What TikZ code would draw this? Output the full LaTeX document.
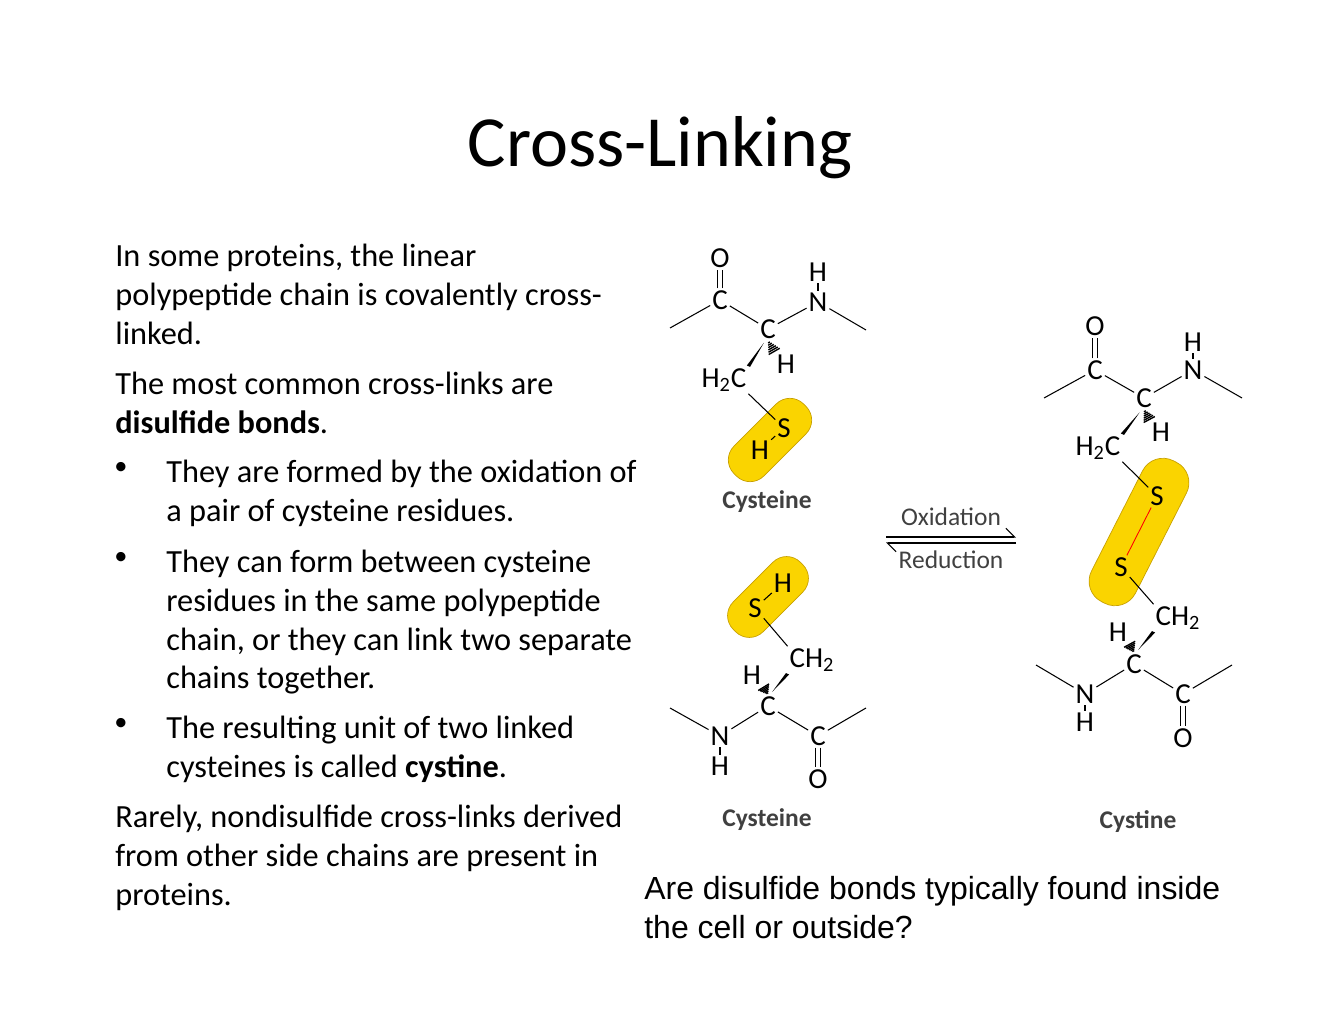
\documentclass[tikz,border=0pt]{standalone}
\usepackage{fontspec}
\setmainfont{Carlito}
\newfontfamily\arialfont{Liberation Sans}
\usetikzlibrary{calc,arrows.meta,positioning}
\definecolor{pill}{RGB}{250,212,0}
\definecolor{pilledge}{RGB}{200,160,0}
\newcommand{\hashbond}[2]{%
  \foreach \t in {0.15,0.3,...,0.95}{%
    \draw[line width=0.8pt] ($(#1)!\t!(#2)+($(#1)!\t*4pt!90:(#2)-(#1)$)$) -- ($(#1)!\t!(#2)-($(#1)!\t*4pt!90:(#2)-(#1)$)$);}}
\newcommand{\wedgebond}[2]{%
  \fill ($(#1)!3.5pt!90:(#2)$) -- ($(#2)!1pt!-90:(#1)$) -- ($(#2)!1pt!90:(#1)$) -- cycle;}
\begin{document}
\begin{tikzpicture}[x=0.02cm, y=-0.02cm,
    atom/.style={inner sep=1pt, font=\fontsize{16.5}{16.5}\selectfont},
    bond/.style={line width=0.6pt},
    body/.style={anchor=north west, align=left, inner sep=0pt, font=\fontsize{18.4}{22}\selectfont},
    caption/.style={font=\fontsize{14.5}{14.5}\selectfont\bfseries, text=black!75},
    bullet/.style={anchor=north west, inner sep=0pt, font=\fontsize{15}{22}\selectfont}]
    \useasboundingbox (0,0) rectangle (1320,1020);

    % title
    \node (title) at (660,148) {\fontsize{41}{41}\selectfont Cross-Linking};

    % text block
    \node[body] (p1) at (115,244) {In some proteins, the linear\\polypeptide chain is covalently cross-\\linked.};
    \node[body] (p2) at (115,372) {The most common cross-links are\\\textbf{disulfide bonds}.};
    \node[bullet] (b1) at (114,462) {•};
    \node[body] (t1) at (166,460) {They are formed by the oxidation of\\a pair of cysteine residues.};
    \node[bullet] (b2) at (114,552) {•};
    \node[body] (t2) at (166,550) {They can form between cysteine\\residues in the same polypeptide\\chain, or they can link two separate\\chains together.};
    \node[bullet] (b3) at (114,718) {•};
    \node[body] (t3) at (166,716) {The resulting unit of two linked\\cysteines is called \textbf{cystine}.};
    \node[body] (p3) at (115,805) {Rarely, nondisulfide cross-links derived\\from other side chains are present in\\proteins.};

    % top cysteine
    \node[rotate=45, fill=pill, draw=pilledge, rounded corners=11pt, minimum width=56pt, minimum height=24pt] (pillA) at (770,440) {};
    \node[atom] (oA) at (720,258) {O};
    \node[atom] (cA) at (720,300) {C};
    \node[atom] (caA) at (768,329) {C};
    \node[atom] (nA) at (818,302) {N};
    \node[atom] (hnA) at (818,272) {H};
    \node[atom] (haA) at (786,364) {H};
    \node[atom] (cbA) at (724,380) {H\textsubscript{2}C};
    \node[atom] (sA) at (784,428) {S};
    \node[atom] (hsA) at (760,450) {H};
    \coordinate (lA) at (670,328);
    \coordinate (rA) at (866,330);
    \draw[bond] (lA) -- (cA) -- (caA) -- (nA) -- (rA);
    \draw[bond] (nA) -- (hnA);
    \draw[bond] ([xshift=-1.5pt]cA.north) -- ([xshift=-1.5pt]oA.south);
    \draw[bond] ([xshift=1.5pt]cA.north) -- ([xshift=1.5pt]oA.south);
    \hashbond{caA.south}{haA.north west}
    \wedgebond{caA.south west}{cbA.north east}
    \draw[bond] (cbA.south east) -- (sA);
    \draw[bond] (sA) -- (hsA);
    \node[caption] (capA) at (767,502) {Cysteine};

    % bottom cysteine
    \node[rotate=45, fill=pill, draw=pilledge, rounded corners=11pt, minimum width=54pt, minimum height=24pt] (pillB) at (768,597) {};
    \node[atom] (sB) at (755,608) {S};
    \node[atom] (hsB) at (783,583) {H};
    \node[atom] (cbB) at (812,660) {CH\textsubscript{2}};
    \node[atom] (caB) at (768,706) {C};
    \node[atom] (haB) at (752,675) {H};
    \node[atom] (nB) at (720,736) {N};
    \node[atom] (hnB) at (720,766) {H};
    \node[atom] (cB) at (818,736) {C};
    \node[atom] (oB) at (818,779) {O};
    \coordinate (lB) at (670,708);
    \coordinate (rB) at (866,708);
    \draw[bond] (lB) -- (nB) -- (caB) -- (cB) -- (rB);
    \draw[bond] (nB) -- (hnB);
    \draw[bond] ([xshift=-1.5pt]cB.south) -- ([xshift=-1.5pt]oB.north);
    \draw[bond] ([xshift=1.5pt]cB.south) -- ([xshift=1.5pt]oB.north);
    \draw[bond] (sB) -- (hsB);
    \draw[bond] (sB) -- (cbB.north west);
    \hashbond{caB.north}{haB.south east}
    \wedgebond{caB.north east}{cbB.south west}
    \node[caption] (capB) at (767,820) {Cysteine};

    % reaction arrows
    \coordinate (arL) at (886,537);
    \coordinate (arR) at (1016,537);
    \coordinate (brL) at (886,543);
    \coordinate (brR) at (1016,543);
    \draw[bond, -{Straight Barb[left, length=5pt]}] (arL) -- (arR);
    \draw[bond, -{Straight Barb[left, length=5pt]}] (brR) -- (brL);
    \node[font=\fontsize{14.5}{14.5}\selectfont, text=black!75] (ox) at (951,517) {Oxidation};
    \node[font=\fontsize{14.5}{14.5}\selectfont, text=black!75] (red) at (951,560) {Reduction};

    % cystine
    \node[rotate=63, fill=pill, draw=pilledge, rounded corners=13pt, minimum width=90pt, minimum height=28pt] (pillC) at (1139,532) {};
    \node[atom] (oC) at (1095,326) {O};
    \node[atom] (cC) at (1095,370) {C};
    \node[atom] (caC) at (1144,398) {C};
    \node[atom] (nC) at (1193,370) {N};
    \node[atom] (hnC) at (1193,342) {H};
    \node[atom] (haC) at (1161,432) {H};
    \node[atom] (cbC) at (1098,448) {H\textsubscript{2}C};
    \node[atom] (s1) at (1157,496) {S};
    \node[atom] (s2) at (1121,567) {S};
    \node[atom] (cbD) at (1178,618) {CH\textsubscript{2}};
    \node[atom] (haD) at (1118,632) {H};
    \node[atom] (caD) at (1134,664) {C};
    \node[atom] (nD) at (1085,694) {N};
    \node[atom] (hnD) at (1085,722) {H};
    \node[atom] (cD) at (1183,694) {C};
    \node[atom] (oD) at (1183,738) {O};
    \coordinate (lC) at (1044,398);
    \coordinate (rC) at (1242,398);
    \coordinate (lD) at (1036,665);
    \coordinate (rD) at (1232,665);
    \draw[bond] (lC) -- (cC) -- (caC) -- (nC) -- (rC);
    \draw[bond] (nC) -- (hnC);
    \draw[bond] ([xshift=-1.5pt]cC.north) -- ([xshift=-1.5pt]oC.south);
    \draw[bond] ([xshift=1.5pt]cC.north) -- ([xshift=1.5pt]oC.south);
    \hashbond{caC.south}{haC.north west}
    \wedgebond{caC.south west}{cbC.north east}
    \draw[bond] (cbC.south east) -- (s1);
    \draw[line width=0.5pt, red] (s1) -- (s2);
    \draw[bond] (s2) -- (cbD.north west);
    \draw[bond] (lD) -- (nD) -- (caD) -- (cD) -- (rD);
    \draw[bond] (nD) -- (hnD);
    \draw[bond] ([xshift=-1.5pt]cD.south) -- ([xshift=-1.5pt]oD.north);
    \draw[bond] ([xshift=1.5pt]cD.south) -- ([xshift=1.5pt]oD.north);
    \hashbond{caD.north}{haD.south east}
    \wedgebond{caD.north east}{cbD.south west}
    \node[caption] (capC) at (1138,822) {Cystine};

    % question
    \node[anchor=north west, align=left, inner sep=0pt, font=\arialfont\fontsize{18.2}{22}\selectfont] (quest) at (644,876) {Are disulfide bonds typically found inside\\the cell or outside?};
\end{tikzpicture}
\end{document}
